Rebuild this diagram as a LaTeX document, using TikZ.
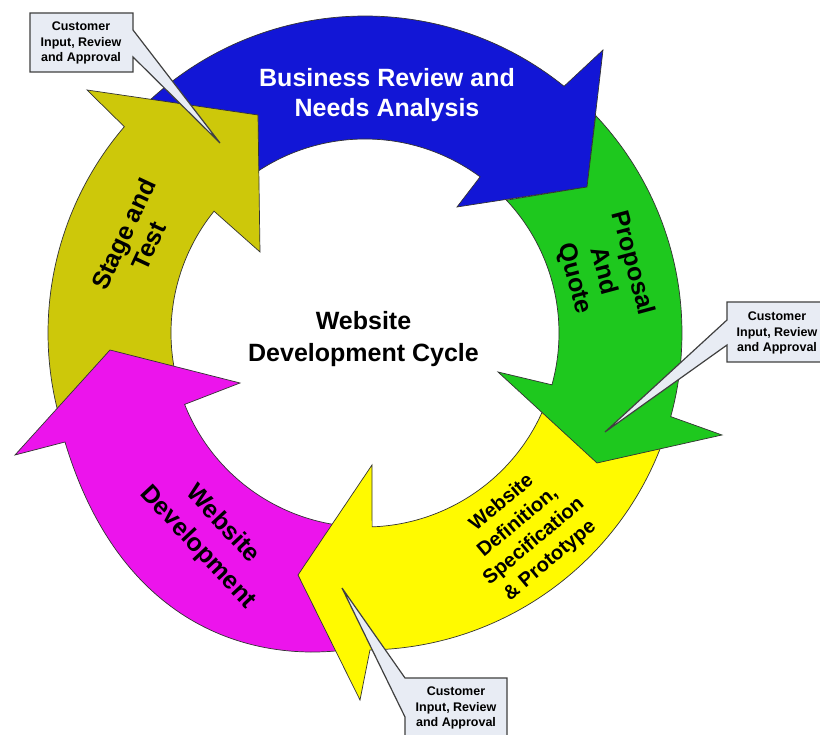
\documentclass[tikz,border=0pt]{standalone}
\usepackage{fontspec}
\setmainfont{Liberation Sans}
\definecolor{cblue}{RGB}{18,22,214}
\definecolor{cgreen}{RGB}{30,200,30}
\definecolor{cyellow}{RGB}{255,250,0}
\definecolor{cmagenta}{RGB}{236,20,236}
\definecolor{colive}{RGB}{205,200,10}
\definecolor{calloutfill}{RGB}{232,236,244}
\begin{document}
\begin{tikzpicture}[x=1pt,y=1pt,
  arrowshape/.style={draw=black!80, line width=0.7pt, line join=miter},
  lbl/.style={font=\bfseries\fontsize{25}{30}\selectfont, align=center, inner sep=0pt},
  callout/.style={draw=black!75, fill=calloutfill, line width=1.2pt, line join=miter},
  ctext/.style={font=\bfseries\fontsize{12.5}{15.5}\selectfont, align=center, inner sep=0pt}]
\useasboundingbox (0,0) rectangle (820,735);
\fill[white] (0,0) rectangle (820,735);
\coordinate (C) at (365,402);
% blue
\path[arrowshape, fill=cblue] ([shift={(C)}]133.5:194) -- ([shift={(C)}]133.5:317)
  arc[start angle=133.5, end angle=51.1, radius=317]
  -- (603,685) -- (587,548) -- (457,528) -- ([shift={(C)}]53.6:194)
  arc[start angle=53.6, end angle=133.5, radius=194] -- cycle;
% olive
\path[arrowshape, fill=colive] ([shift={(C)}]195:194) -- ([shift={(C)}]195:317)
  arc[start angle=195, end angle=139.4, radius=317]
  -- (87,645) -- (258,620) -- (260,483) -- ([shift={(C)}]141.1:194)
  arc[start angle=141.1, end angle=195, radius=194] -- cycle;
% magenta
\path[arrowshape, fill=cmagenta] ([shift={(C)}]-93:194) -- ([shift={(C)}]-93:317)
  .. controls (250,72) and (120,110) .. (65,293)
  -- (15,280) -- (110,385) -- (240,352) -- ([shift={(C)}]-158.4:194)
  arc[start angle=-158.4, end angle=-93, radius=194] -- cycle;
% yellow
\path[arrowshape, fill=cyellow] ([shift={(C)}]-19:194) -- ([shift={(C)}]-19:317)
  arc[start angle=-19, end angle=-89.1, radius=317]
  -- (360,35) -- (298,160) -- (372,270) -- ([shift={(C)}]-87.9:194)
  arc[start angle=-87.9, end angle=-19, radius=194] -- cycle;
% green
\path[arrowshape, fill=cgreen] ([shift={(C)}]43.2:194) -- (587,548) -- ([shift={(C)}]43.3:317)
  arc[start angle=43.3, end angle=-15.3, radius=317]
  -- (722,300) -- (597,272) -- (498,363) -- ([shift={(C)}]-15.5:194)
  arc[start angle=-15.5, end angle=43.2, radius=194] -- cycle;
% labels
\node[lbl, text=white] (lblBlue) at (387,640) {Business Review and\\Needs Analysis};
\node[lbl, rotate=-75] (lblGreen) at (603,464) {Proposal\\And\\Quote};
\node[lbl, font=\bfseries\fontsize{20}{25}\selectfont, rotate=40] (lblYellow) at (526,203) {Website\\Definition,\\Specification\\\& Prototype};
\node[lbl, font=\bfseries\fontsize{25}{34}\selectfont, rotate=-47] (lblMagenta) at (210,199) {Website\\Development};
\node[lbl, font=\bfseries\fontsize{25}{28}\selectfont, rotate=65] (lblOlive) at (136,495) {Stage and\\Test};
\node[lbl, font=\bfseries\fontsize{25}{32}\selectfont] (lblCenter) at (363.5,396) {Website\\Development Cycle};
% callouts
\path[callout] (30,722) -- (133,722) -- (133,705) -- (220,592) -- (133,678) -- (133,663) -- (30,663) -- cycle;
\node[ctext] (c1) at (81,692) {Customer\\Input, Review\\and Approval};
\path[callout] (727,433) -- (824,433) -- (824,373) -- (727,373) -- (727,390) -- (605,303) -- (727,415) -- cycle;
\node[ctext] (c2) at (777,402) {Customer\\Input, Review\\and Approval};
\path[callout] (405,57) -- (342,147) -- (405,18) -- (405,-10) -- (507,-10) -- (507,57) -- cycle;
\node[ctext] (c3) at (456,27) {Customer\\Input, Review\\and Approval};
\end{tikzpicture}
\end{document}
